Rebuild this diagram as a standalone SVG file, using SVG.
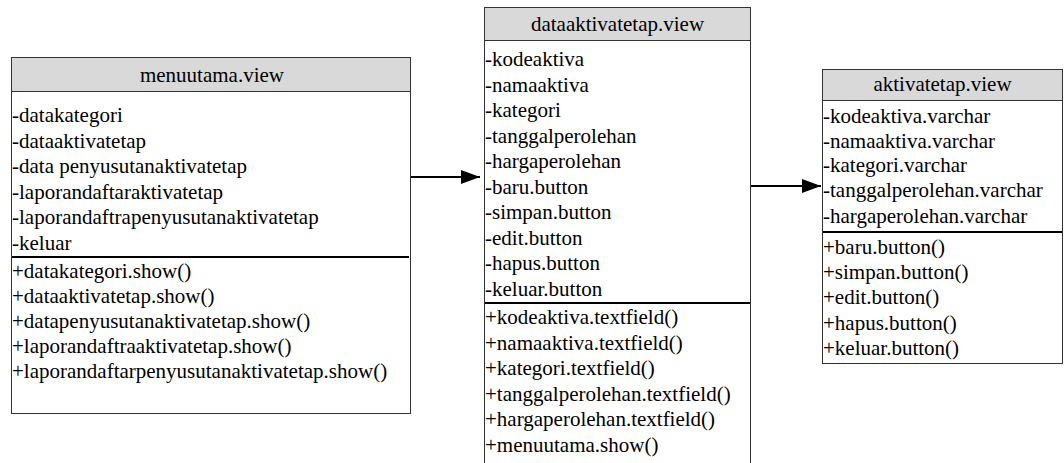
<svg xmlns="http://www.w3.org/2000/svg" width="1064" height="463" viewBox="0 0 1064 463">
<style>
.box{fill:#fff;stroke:#333;stroke-width:1}
.hdr{fill:#d9d9d9;stroke:#333;stroke-width:1}
.div{stroke:#000;stroke-width:2}
.conn{stroke:#000;stroke-width:2;fill:none}
text{font-family:'Liberation Serif','Times New Roman',serif;font-size:21px;fill:#000}
.t{text-anchor:middle}
</style>
<defs>
<marker id="arr" markerWidth="20" markerHeight="14" refX="19" refY="7" orient="auto" markerUnits="userSpaceOnUse">
<path d="M0,0 L19,7 L0,14 Z" fill="#000"/>
</marker>
</defs>
<g id="menuutama">
<rect class="box" x="11.5" y="57.5" width="399" height="356"/>
<rect class="hdr" x="11.5" y="57.5" width="399" height="34"/>
<text class="t" x="212" y="82">menuutama.view</text>
<text x="12" y="122">-datakategori</text>
<text x="12" y="147.5">-dataaktivatetap</text>
<text x="12" y="173">-data penyusutanaktivatetap</text>
<text x="12" y="198.5">-laporandaftaraktivatetap</text>
<text x="12" y="224">-laporandaftrapenyusutanaktivatetap</text>
<text x="12" y="249.5">-keluar</text>
<line class="div" x1="12" y1="257" x2="409" y2="257"/>
<text x="12" y="278">+datakategori.show()</text>
<text x="12" y="303">+dataaktivatetap.show()</text>
<text x="12" y="328">+datapenyusutanaktivatetap.show()</text>
<text x="12" y="353">+laporandaftraaktivatetap.show()</text>
<text x="12" y="378">+laporandaftarpenyusutanaktivatetap.show()</text>
</g>
<g id="dataaktivatetap">
<rect class="box" x="484.5" y="7.5" width="266" height="470"/>
<rect class="hdr" x="484.5" y="7.5" width="266" height="33"/>
<text class="t" x="617.5" y="31">dataaktivatetap.view</text>
<text x="485" y="66">-kodeaktiva</text>
<text x="485" y="91.5">-namaaktiva</text>
<text x="485" y="117">-kategori</text>
<text x="485" y="142.5">-tanggalperolehan</text>
<text x="485" y="168">-hargaperolehan</text>
<text x="485" y="193.5">-baru.button</text>
<text x="485" y="219">-simpan.button</text>
<text x="485" y="244.5">-edit.button</text>
<text x="485" y="270">-hapus.button</text>
<text x="485" y="295.5">-keluar.button</text>
<line class="div" x1="485" y1="303" x2="750" y2="303"/>
<text x="485" y="324">+kodeaktiva.textfield()</text>
<text x="485" y="349.6">+namaaktiva.textfield()</text>
<text x="485" y="375.2">+kategori.textfield()</text>
<text x="485" y="400.8">+tanggalperolehan.textfield()</text>
<text x="485" y="426.4">+hargaperolehan.textfield()</text>
<text x="485" y="452">+menuutama.show()</text>
</g>
<g id="aktivatetap">
<rect class="box" x="822.5" y="69.5" width="240" height="294"/>
<rect class="hdr" x="822.5" y="69.5" width="240" height="31"/>
<text class="t" x="942.5" y="91">aktivatetap.view</text>
<text x="823" y="122.5">-kodeaktiva.varchar</text>
<text x="823" y="147.5">-namaaktiva.varchar</text>
<text x="823" y="172">-kategori.varchar</text>
<text x="823" y="197">-tanggalperolehan.varchar</text>
<text x="823" y="223">-hargaperolehan.varchar</text>
<line class="div" x1="823" y1="232" x2="1062" y2="232"/>
<text x="823" y="254">+baru.button()</text>
<text x="823" y="279">+simpan.button()</text>
<text x="823" y="304">+edit.button()</text>
<text x="823" y="329.5">+hapus.button()</text>
<text x="823" y="355">+keluar.button()</text>
</g>
<g id="connectors">
<line class="conn" x1="411" y1="177" x2="480" y2="177" marker-end="url(#arr)"/>
<line class="conn" x1="751" y1="186" x2="821" y2="186" marker-end="url(#arr)"/>
</g>
</svg>
